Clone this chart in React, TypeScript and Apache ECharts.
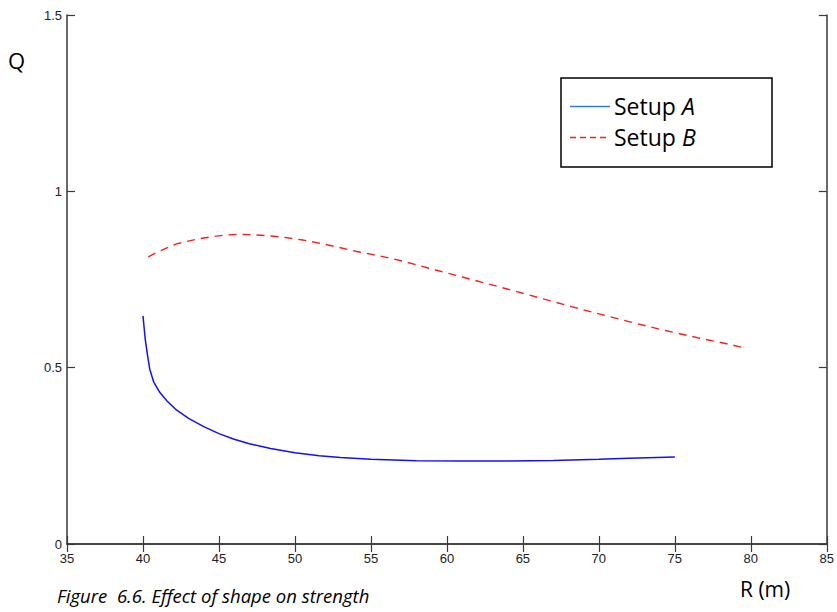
import React, { useEffect, useRef } from "react";
import * as echarts from "echarts";

const setupAR = [40, 40.15, 40.3, 40.45, 40.7, 41.1, 41.6, 42.2, 43, 44, 45, 46, 47, 48.4, 50, 51.6, 53, 55, 58, 61, 64, 67, 70, 72, 75];
const setupAQ = [0.647, 0.58, 0.535, 0.495, 0.46, 0.43, 0.405, 0.38, 0.356, 0.333, 0.313, 0.297, 0.284, 0.271, 0.259, 0.25, 0.245, 0.24, 0.236, 0.235, 0.235, 0.237, 0.24, 0.243, 0.247];

const setupBR = [40.35, 41, 42.2, 43.5, 44.5, 45.4, 46.3, 47.2, 48.2, 49.2, 50.5, 51.5, 52.7, 54, 55.8, 57.2, 59, 61, 63.3, 65.5, 68.2, 70.5, 72.5, 74.2, 76.5, 78.5, 79.7];
const setupBQ = [0.814, 0.829, 0.851, 0.864, 0.871, 0.876, 0.878, 0.877, 0.874, 0.87, 0.862, 0.854, 0.843, 0.83, 0.815, 0.801, 0.78, 0.757, 0.731, 0.705, 0.673, 0.647, 0.625, 0.607, 0.585, 0.567, 0.555];

const xTicks = [35, 40, 45, 50, 55, 60, 65, 70, 75, 80, 85];
const yTicks = [0, 0.5, 1, 1.5];

const seriesNames = ["Setup A", "Setup B"];
const xTitle = "R (m)";
const yTitle = "Q";
const caption = "Figure\u00a0 6.6. Effect of shape on strength";

const AXIS_COLOR = "#3a3a3a";
const TEXT_FONT = "'Open Sans', 'Noto Sans', sans-serif";

export default function App() {
  const ref = useRef<HTMLDivElement>(null);
  useEffect(() => {
    if (!ref.current) return;
    const chart = echarts.init(ref.current, undefined, { renderer: "svg" });
    const xMin = xTicks[0];
    const xMax = xTicks[xTicks.length - 1];
    const yMin = yTicks[0];
    const yMax = yTicks[yTicks.length - 1];
    const baseAxisLine = { show: true, lineStyle: { color: AXIS_COLOR, width: 1.5 } };
    const baseTick = { show: true, inside: true, length: 8, lineStyle: { color: AXIS_COLOR, width: 1.2 } };
    const labelStyle = { color: "#222", fontFamily: "'Liberation Sans', Arial, sans-serif", fontSize: 13 };
    chart.setOption({
      animation: false,
      backgroundColor: "#ffffff",
      grid: { left: 67, top: 15, width: 760, bottom: 68, containLabel: false },
      xAxis: [
        {
          type: "value",
          min: xMin,
          max: xMax,
          interval: 5,
          position: "bottom",
          axisLine: baseAxisLine,
          axisTick: baseTick,
          splitLine: { show: false },
          axisLabel: { ...labelStyle, margin: 8 },
        },
        {
          type: "value",
          min: xMin,
          max: xMax,
          interval: 5,
          position: "top",
          axisLine: baseAxisLine,
          axisTick: baseTick,
          splitLine: { show: false },
          axisLabel: { show: false },
        },
      ],
      yAxis: [
        {
          type: "value",
          min: yMin,
          max: yMax,
          interval: 0.5,
          position: "left",
          axisLine: baseAxisLine,
          axisTick: baseTick,
          splitLine: { show: false },
          axisLabel: { ...labelStyle, margin: 5 },
        },
        {
          type: "value",
          min: yMin,
          max: yMax,
          interval: 0.5,
          position: "right",
          axisLine: baseAxisLine,
          axisTick: baseTick,
          splitLine: { show: false },
          axisLabel: { show: false },
        },
      ],
      series: [
        {
          name: seriesNames[0],
          type: "line",
          xAxisIndex: 0,
          yAxisIndex: 0,
          showSymbol: false,
          data: setupAR.map((r, i) => [r, setupAQ[i]]),
          lineStyle: { color: "#1010ff", width: 1.5 },
          itemStyle: { color: "#1010ff" },
        },
        {
          name: seriesNames[1],
          type: "line",
          xAxisIndex: 0,
          yAxisIndex: 0,
          showSymbol: false,
          data: setupBR.map((r, i) => [r, setupBQ[i]]),
          lineStyle: { color: "#ff1a1a", width: 1.4, type: [8, 6] },
          itemStyle: { color: "#ff1a1a" },
        },
      ],
      graphic: [
        {
          type: "text",
          left: 8,
          top: 49,
          style: { text: yTitle, font: `22px ${TEXT_FONT}`, fill: "#000" },
        },
        {
          type: "text",
          left: 740,
          top: 578,
          style: { text: xTitle, font: `21px ${TEXT_FONT}`, fill: "#000" },
        },
        {
          type: "text",
          left: 57,
          top: 586,
          style: { text: caption, font: `italic 18.5px ${TEXT_FONT}`, fill: "#000" },
        },
        {
          type: "group",
          z: 100,
          children: [
            {
              type: "rect",
              shape: { x: 561, y: 78, width: 211, height: 89 },
              style: { fill: "#ffffff", stroke: "#000000", lineWidth: 1.5 },
            },
            {
              type: "line",
              shape: { x1: 570, y1: 106.5, x2: 610, y2: 106.5 },
              style: { stroke: "#2f7ed8", lineWidth: 1.5 },
            },
            {
              type: "line",
              shape: { x1: 570, y1: 137.5, x2: 610, y2: 137.5 },
              style: { stroke: "#ff1a1a", lineWidth: 1.5, lineDash: [6, 4] },
            },
            {
              type: "text",
              x: 614,
              y: 106,
              style: {
                text: "Setup {i|A}",
                font: `23px ${TEXT_FONT}`,
                fill: "#000",
                verticalAlign: "middle",
                textVerticalAlign: "middle",
                rich: { i: { fontStyle: "italic", fontSize: 23, fontFamily: TEXT_FONT, fill: "#000", color: "#000" } },
              },
            },
            {
              type: "text",
              x: 614,
              y: 137,
              style: {
                text: "Setup {i|B}",
                font: `23px ${TEXT_FONT}`,
                fill: "#000",
                verticalAlign: "middle",
                textVerticalAlign: "middle",
                rich: { i: { fontStyle: "italic", fontSize: 23, fontFamily: TEXT_FONT, fill: "#000", color: "#000" } },
              },
            },
          ],
        },
      ],
    });
    return () => chart.dispose();
  }, []);
  return <div ref={ref} style={{ width: 837, height: 612, position: "absolute", left: 0, top: 0 }} />;
}
